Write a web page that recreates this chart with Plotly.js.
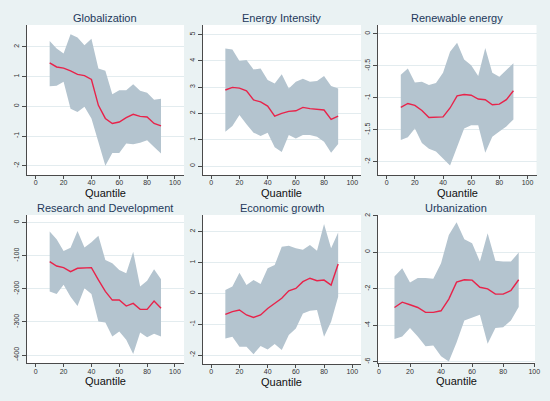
<!DOCTYPE html>
<html>
<head>
<meta charset="utf-8">
<script src="https://cdn.plot.ly/plotly-3.0.1.min.js"></script>
<style>html,body{margin:0;padding:0;background:#EAF2F3;}#chart{width:550px;height:401px;}</style>
</head>
<body>
<div id="chart"></div>
<script>
// ---- data ----
const quantiles = [10,15,20,25,30,35,40,45,50,55,60,65,70,75,80,85,90];
const xTicks = [0,20,40,60,80,100];
const xTitle = "Quantile";

const panelTitles = ["Globalization","Energy Intensity","Renewable energy","Research and Development","Economic growth","Urbanization"];

const globCoef  = [1.46,1.32,1.28,1.19,1.07,1.03,0.90,0.03,-0.41,-0.58,-0.53,-0.38,-0.27,-0.34,-0.36,-0.58,-0.66];
const globUpper = [2.19,1.94,1.77,2.42,2.31,2.05,2.27,1.27,1.19,0.40,0.54,0.54,0.74,0.52,0.45,0.22,0.25];
const globLower = [0.67,0.69,0.82,-0.08,-0.19,-0.02,-0.41,-1.20,-2.00,-1.57,-1.57,-1.25,-1.28,-1.23,-1.14,-1.37,-1.59];
const globTicks = [-2,-1,0,1,2];

const energyCoef  = [2.89,2.99,2.96,2.86,2.51,2.44,2.28,1.90,2.00,2.08,2.10,2.23,2.18,2.16,2.13,1.77,1.90];
const energyUpper = [4.47,4.43,3.99,4.03,3.67,3.71,3.27,3.14,3.49,2.95,3.20,3.32,3.20,3.23,3.42,3.04,2.95];
const energyLower = [1.30,1.52,1.94,1.59,1.27,1.14,1.27,0.71,0.53,1.18,1.05,1.18,1.18,1.11,0.92,0.51,0.84];
const energyTicks = [0,1,2,3,4,5];

const renewCoef  = [-1.15,-1.09,-1.12,-1.20,-1.31,-1.31,-1.30,-1.16,-0.97,-0.95,-0.96,-1.02,-1.03,-1.11,-1.10,-1.03,-0.89];
const renewUpper = [-0.64,-0.54,-0.76,-0.75,-0.80,-0.77,-0.61,-0.28,-0.14,-0.40,-0.49,-0.66,-0.22,-0.61,-0.67,-0.57,-0.46];
const renewLower = [-1.66,-1.62,-1.48,-1.71,-1.80,-1.84,-1.95,-2.06,-1.77,-1.48,-1.43,-1.43,-1.86,-1.61,-1.53,-1.45,-1.34];
const renewTicks = [-2,-1.5,-1,-0.5,0];

const rdCoef  = [-118,-131,-136,-148,-138,-138,-136,-173,-208,-234,-234,-252,-244,-262,-262,-237,-259];
const rdUpper = [-27,-50,-86,-76,-25,-75,-59,-40,-113,-123,-143,-153,-88,-193,-176,-141,-171];
const rdLower = [-208,-216,-188,-224,-252,-198,-216,-299,-302,-344,-329,-354,-397,-332,-346,-336,-344];
const rdTicks = [-400,-300,-200,-100,0];

const growthCoef  = [-0.68,-0.59,-0.54,-0.70,-0.78,-0.70,-0.49,-0.32,-0.16,0.08,0.16,0.38,0.49,0.41,0.43,0.27,0.95];
const growthUpper = [0.11,0.22,0.67,0.27,0.43,0.30,0.81,0.92,1.51,1.54,1.46,1.41,1.57,1.38,2.25,1.46,1.97];
const growthLower = [-1.46,-1.41,-1.73,-1.73,-1.97,-1.71,-1.82,-1.64,-1.84,-1.35,-1.14,-0.65,-0.56,-0.54,-1.41,-0.92,-0.11];
const growthTicks = [-2,-1,0,1,2];

const urbanCoef  = [-3.03,-2.74,-2.88,-3.03,-3.30,-3.30,-3.21,-2.57,-1.64,-1.51,-1.53,-1.92,-2.01,-2.30,-2.30,-2.10,-1.51];
const urbanUpper = [-1.33,-0.88,-1.66,-1.42,-1.42,-1.46,-0.60,0.95,1.64,0.71,0.49,-0.51,1.04,-0.47,-0.51,-0.51,-0.02];
const urbanLower = [-4.76,-4.62,-4.16,-4.62,-5.16,-5.11,-5.71,-5.99,-4.95,-3.74,-3.58,-3.43,-5.02,-4.16,-4.11,-3.74,-3.01];
const urbanTicks = [-6,-4,-2,0,2];

// ---- layout helpers ----
const W = 550, H = 401;
const FONT = "Liberation Sans Narrow, Arial Narrow, Liberation Sans, Arial, sans-serif";
const BAND = "#B4C4CF", LINE = "#E8234A", AX = "#4a4a4a", GRID = "#E3ECEF";

const panels = [
  {coef:globCoef, up:globUpper, lo:globLower, ticks:globTicks, px:[26.7,184], py:[25,175], xr:[-6.5,106.5], yr:[-2.31,2.73]},
  {coef:energyCoef, up:energyUpper, lo:energyLower, ticks:energyTicks, px:[202.5,361], py:[25,175], xr:[-6.2,106.2], yr:[-0.34,5.36]},
  {coef:renewCoef, up:renewUpper, lo:renewLower, ticks:renewTicks, px:[377.7,536.5], py:[25,175], xr:[-6.4,106.4], yr:[-2.21,0.14]},
  {coef:rdCoef, up:rdUpper, lo:rdLower, ticks:rdTicks, px:[26.7,184], py:[215,363.3], xr:[-6.5,106.5], yr:[-425,23]},
  {coef:growthCoef, up:growthUpper, lo:growthLower, ticks:growthTicks, px:[202.5,361], py:[215,364], xr:[-6.2,106.2], yr:[-2.29,2.54]},
  {coef:urbanCoef, up:urbanUpper, lo:urbanLower, ticks:urbanTicks, px:[377.7,535], py:[215,363.3], xr:[-0.8,100.5], yr:[-6.09,2.04]}
];

const traces = [];
const layout = {
  width: W, height: H,
  margin: {l:0, r:0, t:0, b:0},
  paper_bgcolor: "#EAF2F3",
  plot_bgcolor: "#FFFFFF",
  showlegend: false,
  font: {family: FONT, color: "#333"},
  annotations: []
};

panels.forEach((p, i) => {
  const n = i + 1;
  const xa = n === 1 ? "x" : "x" + n;
  const ya = n === 1 ? "y" : "y" + n;
  const qRev = quantiles.slice().reverse();
  traces.push({
    type: "scatter", mode: "lines", xaxis: xa, yaxis: ya,
    x: quantiles.concat(qRev),
    y: p.up.concat(p.lo.slice().reverse()),
    fill: "toself", fillcolor: BAND,
    line: {width: 0, color: BAND}, hoverinfo: "skip"
  });
  traces.push({
    type: "scatter", mode: "lines", xaxis: xa, yaxis: ya,
    x: quantiles, y: p.coef,
    line: {color: LINE, width: 1.4}
  });
  const dx = [p.px[0]/W, p.px[1]/W];
  const dy = [1 - p.py[1]/H, 1 - p.py[0]/H];
  layout["xaxis" + (n === 1 ? "" : n)] = {
    domain: dx, range: p.xr, anchor: ya,
    tickvals: xTicks, ticktext: xTicks.map(String),
    ticks: "outside", ticklen: 3, tickwidth: 1, tickcolor: AX,
    ticklabelstandoff: -2,
    showline: true, linecolor: AX, linewidth: 1,
    showgrid: false, zeroline: false,
    tickfont: {size: 7, color: "#333", family: FONT},
    automargin: false, fixedrange: true
  };
  layout["yaxis" + (n === 1 ? "" : n)] = {
    domain: dy, range: p.yr, anchor: xa,
    tickvals: p.ticks, ticktext: p.ticks.map(String),
    tickangle: -90,
    ticks: "outside", ticklen: 4, tickwidth: 1, tickcolor: AX,
    showline: true, linecolor: AX, linewidth: 1,
    showgrid: true, gridcolor: GRID, gridwidth: 1, zeroline: false,
    tickfont: {size: 7, color: "#333", family: FONT},
    automargin: false, fixedrange: true
  };
  // panel title
  layout.annotations.push({
    text: panelTitles[i], showarrow: false,
    xref: "paper", yref: "paper",
    x: (dx[0] + dx[1]) / 2, y: 1 - (p.py[0] - 7) / H,
    xanchor: "center", yanchor: "middle", borderpad: 0,
    font: {size: 11, color: "#23395B", family: FONT}
  });
  // x axis title
  layout.annotations.push({
    text: xTitle, showarrow: false,
    xref: "paper", yref: "paper",
    x: (dx[0] + dx[1]) / 2, y: 1 - (p.py[1] + 10.5) / H,
    xanchor: "center", yanchor: "top", borderpad: 0,
    font: {size: 11, color: "#111", family: FONT}
  });
});

Plotly.newPlot("chart", traces, layout, {displayModeBar: false, staticPlot: true});
</script>
</body>
</html>
